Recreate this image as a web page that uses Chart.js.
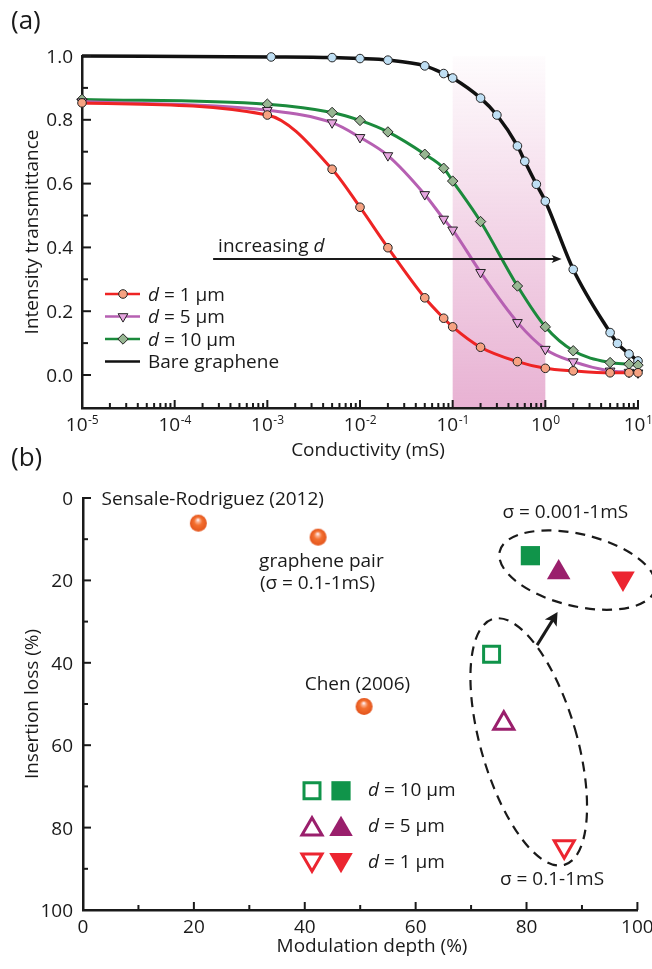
<!DOCTYPE html>
<html>
<head>
<meta charset="utf-8">
<script src="https://cdn.jsdelivr.net/npm/chart.js@4.4.1/dist/chart.umd.min.js"></script>
<style>
  body { margin: 0; background: #fff; }
  #wrap { position: relative; width: 652px; height: 969px; }
  canvas { position: absolute; left: 0; }
  #chartA { top: 0; }
  #chartB { top: 430px; }
</style>
</head>
<body>
<div id="wrap">
  <canvas id="chartA" width="652" height="460"></canvas>
  <canvas id="chartB" width="652" height="539"></canvas>
</div>
<script>
// ---- (a) transmittance vs conductivity (mS) ----
const sigma = [1e-5, 1e-3, 5e-3, 1e-2, 2e-2, 5e-2, 0.08, 0.1, 0.2, 0.5, 1, 2, 5, 8, 10]
const tD1 = [0.853, 0.815, 0.645, 0.526, 0.399, 0.242, 0.178, 0.151, 0.087, 0.042, 0.021, 0.013, 0.007, 0.007, 0.007]
const tD5 = [0.857, 0.830, 0.791, 0.745, 0.688, 0.566, 0.489, 0.455, 0.322, 0.165, 0.081, 0.042, 0.013, 0.009, 0.007]
const tD10 = [0.864, 0.849, 0.823, 0.798, 0.762, 0.692, 0.648, 0.608, 0.481, 0.279, 0.151, 0.076, 0.039, 0.034, 0.031]
const sigmaBare = [1e-5, 1.1e-3, 5e-3, 1e-2, 2e-2, 5e-2, 0.08, 0.1, 0.2, 0.3, 0.5, 0.6, 0.8, 1, 2, 5, 6, 8, 10]
const tBare = [1.0, 0.997, 0.995, 0.992, 0.987, 0.969, 0.945, 0.931, 0.868, 0.815, 0.718, 0.670, 0.598, 0.545, 0.331, 0.133, 0.099, 0.066, 0.044]
const labelsA = ['d = 1 μm', 'd = 5 μm', 'd = 10 μm', 'Bare graphene']
const decades = [-5, -4, -3, -2, -1, 0, 1]
const yTicksA = [0, 0.2, 0.4, 0.6, 0.8, 1.0]
const band = [0.1, 1]

// ---- (b) insertion loss vs modulation depth (%) ----
const priorLabels = ['Sensale-Rodriguez (2012)', 'graphene pair', 'Chen (2006)']
const priorDepth = [20.8, 42.4, 50.7]
const priorLoss = [6.1, 9.5, 50.6]
const thickness = ['d = 10 μm', 'd = 5 μm', 'd = 1 μm']
const depthOpen = [73.7, 75.9, 86.8]     // σ = 0.1-1 mS
const lossOpen = [37.9, 54.7, 84.6]
const depthFilled = [80.7, 85.8, 97.4]   // σ = 0.001-1 mS
const lossFilled = [14.0, 18.1, 19.5]
const ticksB = [0, 20, 40, 60, 80, 100]

const ink = '#1a1a1a'
const FONT = '"Open Sans", "Liberation Sans", sans-serif'
const TXT = 19
const font = (px, style) => (style ? style + ' ' : '') + px + 'px ' + FONT

function leadItalic(ctx, text, x, y, px) {
  // the leading symbol (d) is set in italics
  ctx.font = font(px, 'italic')
  ctx.fillText(text[0], x, y)
  const w = ctx.measureText(text[0]).width
  ctx.font = font(px)
  ctx.fillText(text.slice(1), x + w, y)
}

function arrow(ctx, x0, y0, x1, y1, head, half, lw) {
  const ang = Math.atan2(y1 - y0, x1 - x0)
  ctx.lineWidth = lw
  ctx.beginPath()
  ctx.moveTo(x0, y0)
  ctx.lineTo(x1 - Math.cos(ang) * head * 0.7, y1 - Math.sin(ang) * head * 0.7)
  ctx.stroke()
  ctx.save()
  ctx.translate(x1, y1)
  ctx.rotate(ang)
  ctx.beginPath()
  ctx.moveTo(0, 0)
  ctx.lineTo(-head, -half)
  ctx.lineTo(-head * 0.75, 0)
  ctx.lineTo(-head, half)
  ctx.closePath()
  ctx.fill()
  ctx.restore()
}

function marker(ctx, style, x, y) {
  Chart.helpers.drawPoint(ctx, style, x, y)
}

// ---------- panel (a) ----------
const seriesA = [
  { ys: tD1, xs: sigma, line: '#ee2424', fill: '#f6a282', style: 'circle', rot: 0, r: 4.3 },
  { ys: tD5, xs: sigma, line: '#b660b2', fill: '#e6a6df', style: 'triangle', rot: 180, r: 5.6 },
  { ys: tD10, xs: sigma, line: '#1b8a3c', fill: '#97b692', style: 'rectRot', rot: 0, r: 5.2 },
  { ys: tBare, xs: sigmaBare, line: '#111111', fill: '#bfdff4', style: 'circle', rot: 0, r: 4.3 }
]

const panelA = {
  id: 'panelA',
  beforeDraw(chart) {
    const { ctx, chartArea: a, scales: { x, y } } = chart
    const x0 = x.getPixelForValue(band[0]), x1 = x.getPixelForValue(band[1])
    const top = y.getPixelForValue(1)
    const g = ctx.createLinearGradient(0, top, 0, a.bottom)
    g.addColorStop(0, 'rgba(232,178,211,0.04)')
    g.addColorStop(0.5, 'rgba(232,178,211,0.55)')
    g.addColorStop(1, 'rgba(232,178,211,1)')
    ctx.save()
    ctx.fillStyle = g
    ctx.fillRect(x0, top, x1 - x0, a.bottom - top)
    ctx.restore()
  },
  afterDraw(chart) {
    const { ctx, chartArea: a, scales: { x, y } } = chart
    ctx.save()
    ctx.strokeStyle = ink
    ctx.fillStyle = ink
    ctx.lineWidth = 2

    // inward tick marks
    for (let k = 0; k <= 10; k++) {
      const py = y.getPixelForValue(k / 10)
      const len = k % 2 === 0 ? 9 : 6
      ctx.beginPath(); ctx.moveTo(a.left, py); ctx.lineTo(a.left + len, py); ctx.stroke()
    }
    decades.forEach(e => {
      const steps = e < 1 ? 9 : 1
      for (let m = 1; m <= steps; m++) {
        const px = x.getPixelForValue(m * Math.pow(10, e))
        const len = m === 1 ? 8 : 5
        ctx.beginPath(); ctx.moveTo(px, a.bottom); ctx.lineTo(px, a.bottom - len); ctx.stroke()
      }
    })

    // tick labels
    ctx.textAlign = 'right'
    ctx.font = font(TXT)
    yTicksA.forEach(v => ctx.fillText(v.toFixed(1), 73, y.getPixelForValue(v) + 6.5))
    ctx.textAlign = 'left'
    decades.forEach(e => {
      const px = x.getPixelForValue(Math.pow(10, e))
      ctx.font = font(TXT)
      const wb = ctx.measureText('10').width
      ctx.font = font(12)
      const we = ctx.measureText(String(e)).width
      const x0 = px - (wb + we) / 2
      ctx.font = font(TXT)
      ctx.fillText('10', x0, 431)
      ctx.font = font(12)
      ctx.fillText(String(e), x0 + wb + 0.5, 424)
    })

    // axis titles
    ctx.font = font(TXT)
    ctx.textAlign = 'center'
    ctx.fillText('Conductivity (mS)', 368, 456)
    ctx.save()
    ctx.translate(38, (a.top + a.bottom) / 2)
    ctx.rotate(-Math.PI / 2)
    ctx.fillText('Intensity transmittance', 0, 0)
    ctx.restore()

    // increasing-d arrow
    const ay = y.getPixelForValue(0.364)
    const ax0 = x.getPixelForValue(2.6e-4), ax1 = x.getPixelForValue(1.5)
    arrow(ctx, ax0, ay, ax1, ay, 10, 4, 2)
    ctx.textAlign = 'left'
    ctx.font = font(TXT)
    ctx.fillText('increasing ', ax0 + 5, ay - 7)
    const wi = ctx.measureText('increasing ').width
    ctx.font = font(TXT, 'italic')
    ctx.fillText('d', ax0 + 5 + wi, ay - 7)

    // legend
    chart.data.datasets.forEach((ds, i) => {
      const ry = 294 + i * 22.5
      ctx.strokeStyle = ds.borderColor
      ctx.lineWidth = 2.5
      ctx.beginPath(); ctx.moveTo(105, ry); ctx.lineTo(140, ry); ctx.stroke()
      if (i < 3) {
        ctx.fillStyle = ds.pointBackgroundColor
        ctx.strokeStyle = '#222'
        ctx.lineWidth = 1
        marker(ctx, { pointStyle: ds.pointStyle, rotation: ds.pointRotation, radius: seriesA[i].r, borderWidth: 1 }, 123, ry)
      }
      ctx.fillStyle = ink
      ctx.textAlign = 'left'
      if (i < 3) leadItalic(ctx, ds.label, 148, ry + 6.5, TXT)
      else { ctx.font = font(TXT); ctx.fillText(ds.label, 148, ry + 6.5) }
    })

    ctx.font = font(26)
    ctx.textAlign = 'left'
    ctx.fillText('(a)', 11, 29)
    ctx.restore()
  }
}

new Chart(document.getElementById('chartA'), {
  type: 'line',
  data: {
    datasets: seriesA.map((s, i) => ({
      label: labelsA[i],
      data: s.xs.map((v, j) => ({ x: v, y: s.ys[j] })),
      borderColor: s.line,
      borderWidth: i === 3 ? 3.5 : 3,
      pointStyle: s.style,
      pointRotation: s.rot,
      pointRadius: i === 3 ? s.xs.map((v, j) => (j === 0 ? 0 : s.r)) : s.r,
      pointBackgroundColor: s.fill,
      pointBorderColor: '#222',
      pointBorderWidth: 1,
      cubicInterpolationMode: 'monotone',
      clip: false
    }))
  },
  options: {
    responsive: false,
    animation: false,
    layout: { padding: { left: 0, right: 14, top: 56, bottom: 0 } },
    plugins: { legend: { display: false }, tooltip: { enabled: false } },
    scales: {
      x: {
        type: 'logarithmic', min: 1e-5, max: 10,
        ticks: { display: false },
        grid: { display: false },
        border: { display: true, width: 2.5, color: ink },
        afterFit: s => { s.height = 52 }
      },
      y: {
        min: -0.1034, max: 1,
        ticks: { display: false },
        grid: { display: false },
        border: { display: true, width: 2.5, color: ink },
        afterFit: s => { s.width = 82 }
      }
    }
  },
  plugins: [panelA]
})

// ---------- panel (b) ----------
function sphere(r) {
  const c = document.createElement('canvas')
  c.width = c.height = 2 * r + 2
  const g = c.getContext('2d')
  const m = r + 1
  const grad = g.createRadialGradient(m - r * 0.05, m - r * 0.4, r * 0.05, m, m, r)
  grad.addColorStop(0, '#fff0f4')
  grad.addColorStop(0.18, '#fbb090')
  grad.addColorStop(0.45, '#f47030')
  grad.addColorStop(1, '#e3541c')
  g.fillStyle = grad
  g.beginPath()
  g.arc(m, m, r, 0, Math.PI * 2)
  g.fill()
  return c
}

const marksB = [
  { color: '#10944a', style: 'rect', rot: 0, r: [11.3, 13.6] },
  { color: '#9a1f6c', style: 'triangle', rot: 0, r: [11.6, 13.6] },
  { color: '#ec2530', style: 'triangle', rot: 180, r: [11.6, 13.6] }
]

// label anchors in axis units: [depth, loss] = text centre / baseline
const notesB = [
  { text: priorLabels[0], at: [23.4, 1.7] },
  { text: priorLabels[1], at: [43.0, 16.7] },
  { text: '(σ = 0.1-1mS)', at: [42.3, 22.1] },
  { text: priorLabels[2], at: [49.5, 46.6] },
  { text: 'σ = 0.001-1mS', at: [87.0, 4.9] },
  { text: 'σ = 0.1-1mS', at: [84.6, 93.9] }
]
const groupsB = [
  { at: [89.2, 17.5], rx: 80, ry: 36, rot: 13.5 },
  { at: [80.4, 59.2], rx: 48, ry: 128, rot: -16.2 }
]
const shiftB = { from: [81.9, 35.7], to: [85.6, 27.7] }

const panelB = {
  id: 'panelB',
  beforeDatasetsDraw(chart) {
    const { ctx, scales: { x, y } } = chart
    ctx.save()
    ctx.strokeStyle = ink
    ctx.lineWidth = 2.2
    ctx.setLineDash([10, 7])
    groupsB.forEach(e => {
      ctx.beginPath()
      ctx.ellipse(x.getPixelForValue(e.at[0]), y.getPixelForValue(e.at[1]), e.rx, e.ry, e.rot * Math.PI / 180, 0, Math.PI * 2)
      ctx.stroke()
    })
    ctx.setLineDash([])
    ctx.fillStyle = ink
    arrow(ctx, x.getPixelForValue(shiftB.from[0]), y.getPixelForValue(shiftB.from[1]),
      x.getPixelForValue(shiftB.to[0]), y.getPixelForValue(shiftB.to[1]), 13, 7, 3)
    ctx.restore()
  },
  afterDraw(chart) {
    const { ctx, chartArea: a, scales: { x, y } } = chart
    ctx.save()
    ctx.strokeStyle = ink
    ctx.fillStyle = ink
    ctx.lineWidth = 2
    for (let v = 0; v <= 100; v += 10) {
      const len = v % 20 === 0 ? 8 : 5
      const py = y.getPixelForValue(v)
      ctx.beginPath(); ctx.moveTo(a.left, py); ctx.lineTo(a.left + len, py); ctx.stroke()
      const px = x.getPixelForValue(v)
      ctx.beginPath(); ctx.moveTo(px, a.bottom); ctx.lineTo(px, a.bottom - len); ctx.stroke()
    }
    ctx.font = font(TXT)
    ctx.textAlign = 'right'
    ticksB.forEach(v => ctx.fillText(String(v), 73, y.getPixelForValue(v) + 7))
    ctx.textAlign = 'center'
    ticksB.forEach(v => ctx.fillText(String(v), x.getPixelForValue(v), a.bottom + 23))

    ctx.fillText('Modulation depth (%)', 372, 522)
    ctx.save()
    ctx.translate(38, (a.top + a.bottom) / 2)
    ctx.rotate(-Math.PI / 2)
    ctx.fillText('Insertion loss (%)', 0, 0)
    ctx.restore()

    notesB.forEach(n => ctx.fillText(n.text, x.getPixelForValue(n.at[0]), y.getPixelForValue(n.at[1])))

    // legend: open = σ 0.1-1 mS, filled = σ 0.001-1 mS
    const rowsY = [360.8, 399.3, 429.7]
    const textY = [366, 402, 438]
    marksB.forEach((m, i) => {
      ctx.strokeStyle = m.color
      ctx.fillStyle = '#fff'
      ctx.lineWidth = 3
      marker(ctx, { pointStyle: m.style, rotation: m.rot, radius: m.r[0], borderWidth: 3 }, 312, rowsY[i])
      ctx.fillStyle = m.color
      marker(ctx, { pointStyle: m.style, rotation: m.rot, radius: m.r[1], borderWidth: 0 }, 341, rowsY[i])
      ctx.fillStyle = ink
      ctx.textAlign = 'left'
      leadItalic(ctx, thickness[i], 368, textY[i], TXT)
    })

    ctx.font = font(26)
    ctx.fillText('(b)', 11, 36)
    ctx.restore()
  }
}

const sphereImg = sphere(8.5)

new Chart(document.getElementById('chartB'), {
  type: 'scatter',
  data: {
    datasets: [
      {
        label: 'previous work',
        data: priorDepth.map((v, i) => ({ x: v, y: priorLoss[i] })),
        pointStyle: sphereImg,
        pointRadius: 8.5,
        clip: false
      },
      ...marksB.map((m, i) => ({
        label: thickness[i],
        data: [{ x: depthOpen[i], y: lossOpen[i] }, { x: depthFilled[i], y: lossFilled[i] }],
        pointStyle: m.style,
        pointRotation: m.rot,
        pointRadius: m.r,
        pointBackgroundColor: ['#ffffff', m.color],
        pointBorderColor: m.color,
        pointBorderWidth: [3, 0],
        clip: false
      }))
    ]
  },
  options: {
    responsive: false,
    animation: false,
    layout: { padding: { left: 0, right: 14, top: 68, bottom: 0 } },
    plugins: { legend: { display: false }, tooltip: { enabled: false } },
    scales: {
      x: {
        min: 0, max: 100,
        ticks: { display: false },
        grid: { display: false },
        border: { display: true, width: 2.5, color: ink },
        afterFit: s => { s.height = 59 }
      },
      y: {
        reverse: true, min: 0, max: 100,
        ticks: { display: false },
        grid: { display: false },
        border: { display: true, width: 2.5, color: ink },
        afterFit: s => { s.width = 83 }
      }
    }
  },
  plugins: [panelB]
})
</script>
</body>
</html>
